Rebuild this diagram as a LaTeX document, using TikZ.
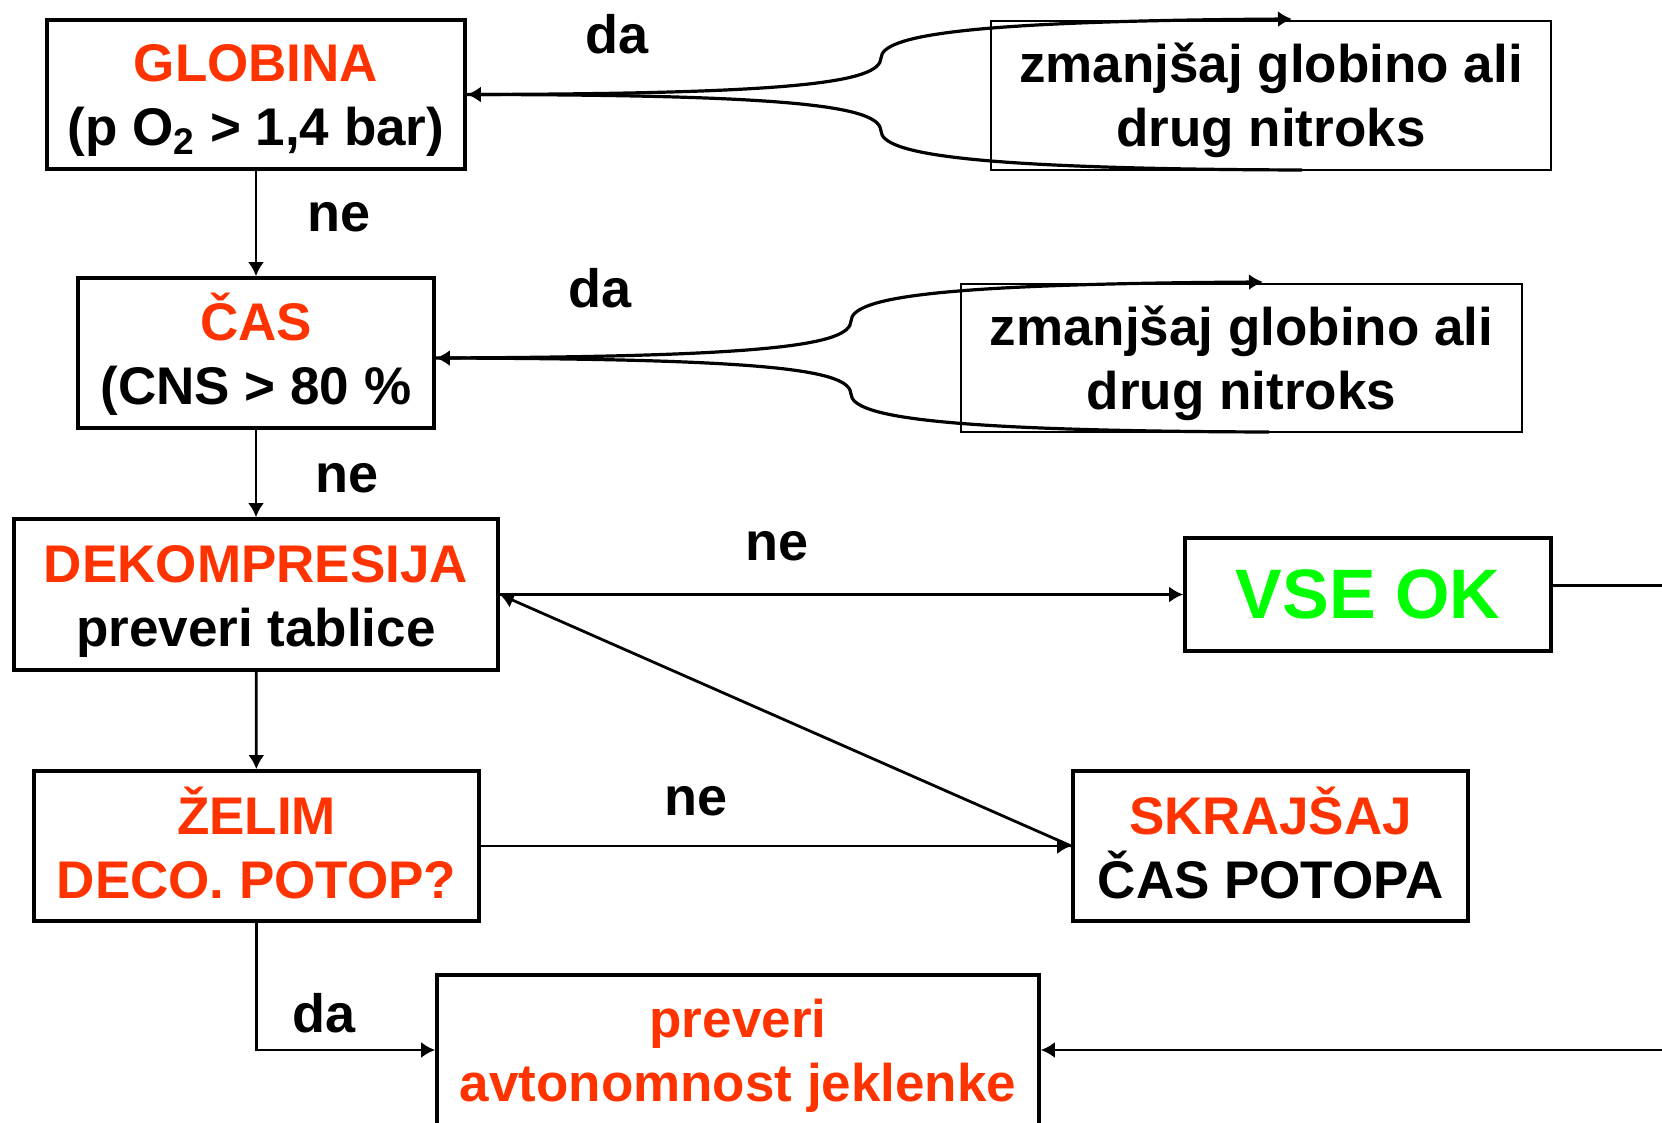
\documentclass[tikz,border=0pt]{standalone}
\usepackage{fontspec}
\setmainfont{Liberation Sans}
\usetikzlibrary{arrows.meta}
\definecolor{hotred}{HTML}{FF3300}
\definecolor{okgreen}{HTML}{00FF00}
\newcommand\lstrut{\rule[-5pt]{0pt}{30pt}}
\newcommand\boxfont{\bfseries\fontsize{26.5}{32}\selectfont\lineskiplimit=-100pt\relax}
\begin{document}
\begin{tikzpicture}[x=0.5pt,y=0.5pt,yscale=-1,xscale=1,
  box/.style={draw, line width=1.8pt, align=center, inner sep=0pt, font=\boxfont},
  thinbox/.style={box, line width=1pt},
  lab/.style={inner sep=0pt, font=\bfseries\fontsize{27}{32}\selectfont},
  conn/.style={line width=1.4pt, -{Latex[length=7pt,width=8pt]}},
  curv/.style={line width=1.6pt, -{Latex[length=7pt,width=8pt]}}]
\useasboundingbox (0,0) rectangle (1662,1123);
\clip (0,0) rectangle (1662,1123);
\node [box, minimum width=209pt, minimum height=74.5pt] (glob) at (256,94.5) {\lstrut\textcolor{hotred}{GLOBINA}\\\lstrut(p O\textsubscript{2} > 1,4 bar)};
\node [box, minimum width=178pt, minimum height=75pt] (cas) at (256,353) {\lstrut\textcolor{hotred}{ČAS}\\\lstrut(CNS > 80 \%};
\node [box, minimum width=242pt, minimum height=75.5pt] (dek) at (256,594.5) {\lstrut\textcolor{hotred}{DEKOMPRESIJA}\\\lstrut preveri tablice};
\node [box, minimum width=222.5pt, minimum height=75pt, text=hotred] (zel) at (256.5,846) {\lstrut ŽELIM\\\lstrut DECO. POTOP?};
\node [box, minimum width=301pt, minimum height=75pt, text=hotred] (prev) at (738,1050) {\lstrut preveri\\\lstrut avtonomnost jeklenke};
\node [thinbox, minimum width=280pt, minimum height=74.5pt] (zm1) at (1271,95.5) {\lstrut zmanjšaj globino ali\\\lstrut drug nitroks};
\node [thinbox, minimum width=280.5pt, minimum height=74pt] (zm2) at (1241.5,358) {\lstrut zmanjšaj globino ali\\\lstrut drug nitroks};
\node [box, minimum width=183pt, minimum height=56.5pt, text=okgreen, font=\bfseries\fontsize{35}{40}\selectfont] (ok) at (1368,594.5) {VSE OK};
\node [box, minimum width=197.5pt, minimum height=75pt] (skr) at (1270.5,846) {\lstrut\textcolor{hotred}{SKRAJŠAJ}\\\lstrut ČAS POTOPA};
\coordinate (zm1in) at (1292,19);
\coordinate (zm1out) at (1302,170);
\coordinate (zm2in) at (1263,282);
\coordinate (zm2out) at (1269,432);
\draw [conn] (glob) -- (cas);
\draw [conn] (cas) -- (dek);
\draw [conn] (dek) -- (zel);
\draw [conn] (zel.south) |- (prev.west);
\draw [conn] (dek.east) -- (ok.west);
\draw [conn] (zel.east) -- (skr.west);
\draw [conn] (skr.west) -- (dek.east);
\draw [conn] ([yshift=-4.5pt]ok.east) -- ++(160,0) |- (prev.east);
\draw [curv] (glob.east) .. controls (800,94) and (880,82) .. (881,58) .. controls (882,36) and (960,21) .. (zm1in);
\draw [curv] (zm1out) .. controls (960,169) and (882,153) .. (881,131) .. controls (880,107) and (800,95) .. (glob.east);
\draw [curv] ([yshift=2.5pt]cas.east) .. controls (770,357) and (850,345) .. (851,321) .. controls (852,298) and (930,284) .. (zm2in);
\draw [curv] (zm2out) .. controls (930,431) and (852,416) .. (851,394) .. controls (850,370) and (770,359) .. ([yshift=2.5pt]cas.east);
\node [lab] (da1) at (617,34) {da};
\node [lab] (da2) at (600,288) {da};
\node [lab] (ne1) at (339,217) {ne};
\node [lab] (ne2) at (347,478) {ne};
\node [lab] (ne3) at (777,546) {ne};
\node [lab] (ne4) at (696,801) {ne};
\node [lab] (da3) at (324,1013) {da};
\end{tikzpicture}
\end{document}
